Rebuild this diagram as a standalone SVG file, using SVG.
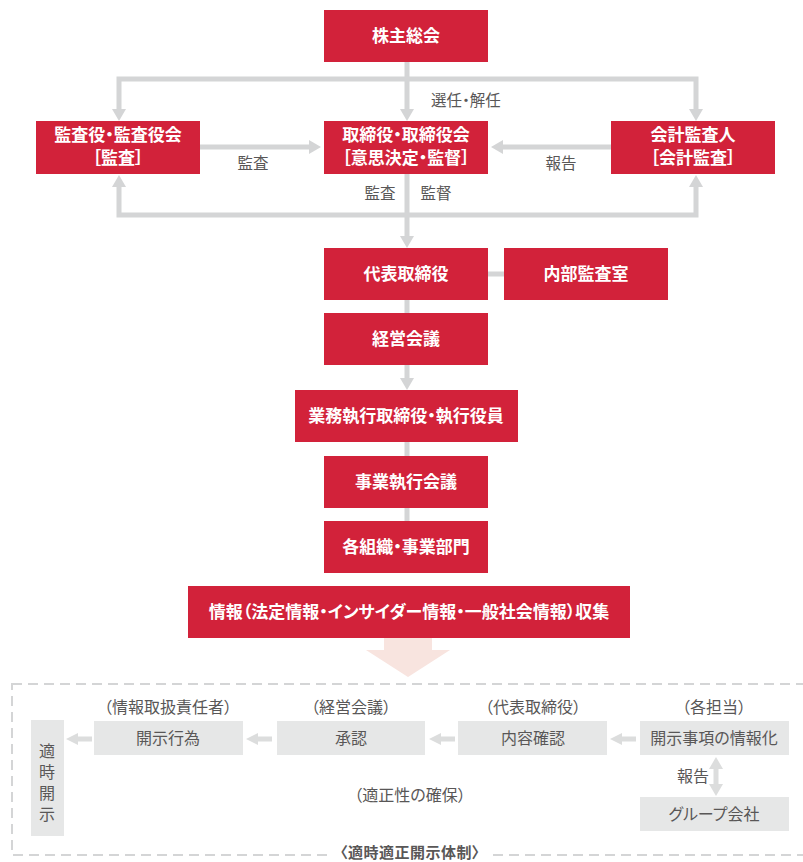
<svg xmlns="http://www.w3.org/2000/svg" width="803" height="862" viewBox="0 0 803 862">
<style>
text{font-feature-settings:"palt";font-family:"Noto Sans CJK JP","Noto Sans",sans-serif;text-anchor:middle}
.rb{fill:#d2223a}
.gb{fill:#e6e7e7}
.wt{fill:#fff;font-weight:bold;font-size:17px}
.lb{fill:#595757;font-size:15.5px}
.gt{fill:#595757;font-size:16px}
.ln{stroke:#d4d5d6;stroke-width:5;fill:none}
.ah{fill:#d4d5d6}
.sl{stroke:#dcdddd;stroke-width:5;fill:none}
.sa{fill:#dcdddd}
</style>
<rect width="803" height="862" fill="#fff"/>
<g id="connectors">
<path class="ln" d="M407 62V110M119 112V79H696V112"/>
<polygon class="ah" points="400,109 414,109 407,121"/>
<polygon class="ah" points="112,109 126,109 119,121"/>
<polygon class="ah" points="689,109 703,109 696,121"/>
<path class="ln" d="M200 147H311"/>
<polygon class="ah" points="309,140 309,154 321,147"/>
<path class="ln" d="M611 147H501"/>
<polygon class="ah" points="503,140 503,154 491,147"/>
<path class="ln" d="M407 174V237M119 186V215H696V186"/>
<polygon class="ah" points="400,236 414,236 407,248"/>
<polygon class="ah" points="112,187 126,187 119,175"/>
<polygon class="ah" points="689,187 703,187 696,175"/>
<path class="ln" d="M488 274H504M407 300V313M407 365V379M407 442V456M407 508V521"/>
<polygon class="ah" points="400,378 414,378 407,390"/>
<polygon fill="#f8e4df" points="384,638 432,638 432,650 450,650 408,677 366,650 384,650"/>
<path class="sl" d="M92 739H76M272 739H256M455 739H439M636 739H620M716 768V785"/>
<polygon class="sa" points="78,733 78,745 66,739"/>
<polygon class="sa" points="258,733 258,745 246,739"/>
<polygon class="sa" points="441,733 441,745 429,739"/>
<polygon class="sa" points="622,733 622,745 610,739"/>
<polygon class="sa" points="709,769 723,769 716,757"/>
<polygon class="sa" points="709,784 723,784 716,796"/>
</g>
<g id="labels">
<text class="lb" x="466" y="106">選任・解任</text>
<text class="lb" x="253" y="169">監査</text>
<text class="lb" x="561" y="169">報告</text>
<text class="lb" x="380" y="199">監査</text>
<text class="lb" x="436" y="199">監督</text>
</g>
<g id="n-shareholders"><rect class="rb" x="324" y="10" width="164" height="52"/><text class="wt" x="406" y="42">株主総会</text></g>
<g id="n-auditors"><rect class="rb" x="36" y="121" width="164" height="53"/><text class="wt" x="118" y="141">監査役・監査役会</text><text class="wt" x="118" y="164">［監査］</text></g>
<g id="n-board"><rect class="rb" x="324" y="121" width="164" height="53"/><text class="wt" x="406" y="141">取締役・取締役会</text><text class="wt" x="406" y="164">［意思決定・監督］</text></g>
<g id="n-accountant"><rect class="rb" x="611" y="121" width="164" height="53"/><text class="wt" x="693" y="141">会計監査人</text><text class="wt" x="693" y="164">［会計監査］</text></g>
<g id="n-president"><rect class="rb" x="324" y="248" width="164" height="52"/><text class="wt" x="406" y="280">代表取締役</text></g>
<g id="n-internal-audit"><rect class="rb" x="504" y="248" width="164" height="52"/><text class="wt" x="586" y="280">内部監査室</text></g>
<g id="n-management"><rect class="rb" x="324" y="313" width="164" height="52"/><text class="wt" x="406" y="345">経営会議</text></g>
<g id="n-executives"><rect class="rb" x="295" y="390" width="223" height="52"/><text class="wt" x="406" y="422">業務執行取締役・執行役員</text></g>
<g id="n-business-meeting"><rect class="rb" x="324" y="456" width="164" height="52"/><text class="wt" x="406" y="488">事業執行会議</text></g>
<g id="n-divisions"><rect class="rb" x="324" y="521" width="164" height="52"/><text class="wt" x="406" y="553">各組織・事業部門</text></g>
<g id="n-info"><rect class="rb" x="188" y="586" width="442" height="52"/><text class="wt" x="409" y="618">情報（法定情報・インサイダー情報・一般社会情報）収集</text></g>
<g id="n-disclosure-frame">
<rect x="12" y="684" width="800" height="171" fill="none" stroke="#d4d5d6" stroke-width="2" stroke-dasharray="10,6"/>
<rect x="330" y="846" width="160" height="16" fill="#fff"/>
<text x="410" y="858" fill="#595757" font-size="15" font-weight="bold" letter-spacing="0.5">〈適時適正開示体制〉</text>
<text class="gt" x="410" y="801">（適正性の確保）</text>
</g>
<g id="n-timely"><rect class="gb" x="31" y="720" width="33" height="116"/>
<text class="gt" x="47" y="743" style="writing-mode:vertical-rl;text-anchor:start;letter-spacing:5px">適時開示</text></g>
<g id="n-act"><text class="gt" x="168" y="713">（情報取扱責任者）</text><rect class="gb" x="94" y="721" width="149" height="34"/><text class="gt" x="168" y="744">開示行為</text></g>
<g id="n-approve"><text class="gt" x="351" y="713">（経営会議）</text><rect class="gb" x="277" y="721" width="148" height="34"/><text class="gt" x="351" y="744">承認</text></g>
<g id="n-confirm"><text class="gt" x="533" y="713">（代表取締役）</text><rect class="gb" x="458" y="721" width="149" height="34"/><text class="gt" x="533" y="744">内容確認</text></g>
<g id="n-informatize"><text class="gt" x="714" y="713">（各担当）</text><rect class="gb" x="640" y="721" width="149" height="34"/><text class="gt" x="714" y="744">開示事項の情報化</text></g>
<g id="n-group"><text class="gt" x="693" y="782">報告</text><rect class="gb" x="640" y="797" width="149" height="34"/><text class="gt" x="714" y="820">グループ会社</text></g>
</svg>
